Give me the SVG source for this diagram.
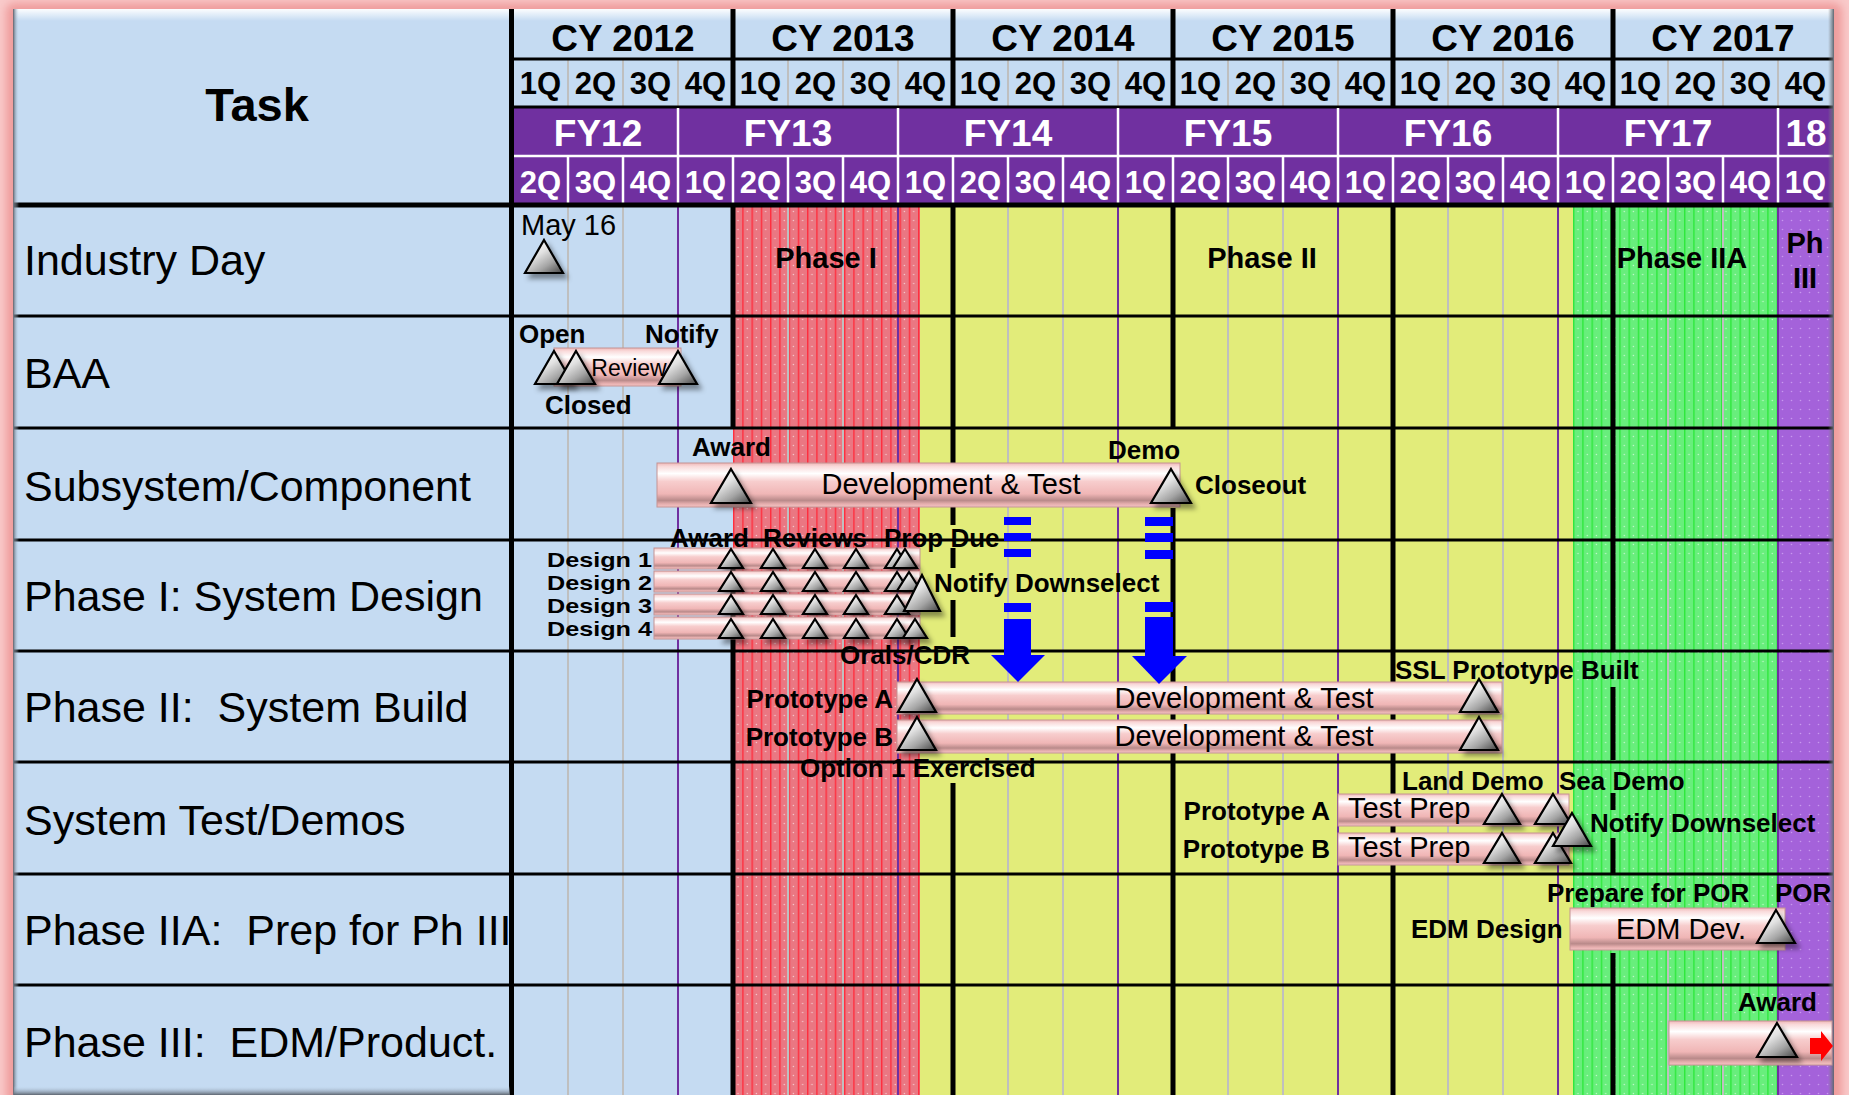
<svg xmlns="http://www.w3.org/2000/svg" width="1849" height="1095" viewBox="0 0 1849 1095">
<defs>
<style>
text{font-family:"Liberation Sans",Arial,sans-serif;fill:#000}
.tl{font-size:43px}
.hd{font-size:37px;font-weight:bold;text-anchor:middle}
.qb{font-size:31px;font-weight:bold;text-anchor:middle}
.w{fill:#fff}
.lb{font-size:26px;font-weight:bold}
.dl{font-size:21px;font-weight:bold;text-anchor:end}
.bt{font-size:29px}
.ph{font-size:29px;font-weight:bold;text-anchor:middle}
.e{text-anchor:end}
.m{text-anchor:middle}
.gl{stroke:#BFBFBF;stroke-width:2}
.pl{stroke:#7030A0;stroke-width:2}
.yl{stroke:#000;stroke-width:5;fill:none}
.rl{stroke:#000;stroke-width:3}
.wl{stroke:#fff;stroke-width:2.5}
.bar{fill:url(#gBar);stroke:#C49494;stroke-width:1}
.ms{fill:url(#gTri);stroke:#000;stroke-width:2.2;stroke-linejoin:miter;filter:url(#ds)}
.ar{fill:#0000FF}
</style>
<linearGradient id="gBar" x1="0" y1="0" x2="0" y2="1">
<stop offset="0" stop-color="#F0B8B8"/>
<stop offset="0.08" stop-color="#F9DADA"/>
<stop offset="0.24" stop-color="#FFFFFF"/>
<stop offset="0.42" stop-color="#F7CDCD"/>
<stop offset="0.7" stop-color="#F0B6B6"/>
<stop offset="0.85" stop-color="#B98A8A"/>
<stop offset="0.93" stop-color="#E6AEAE"/>
<stop offset="1" stop-color="#F4C4C4"/>
</linearGradient>
<linearGradient id="gTri" x1="0.15" y1="0.1" x2="0.85" y2="1">
<stop offset="0" stop-color="#FFFFFF"/>
<stop offset="0.35" stop-color="#E2E2E2"/>
<stop offset="0.7" stop-color="#A4A4A4"/>
<stop offset="1" stop-color="#585858"/>
</linearGradient>
<linearGradient id="gTop" x1="0" y1="0" x2="0" y2="1">
<stop offset="0" stop-color="#FFFFFF" stop-opacity="0.95"/>
<stop offset="1" stop-color="#FFFFFF" stop-opacity="0"/>
</linearGradient>
<linearGradient id="gL" x1="0" y1="0" x2="1" y2="0">
<stop offset="0" stop-color="#5E6670"/>
<stop offset="1" stop-color="#C5DBF2" stop-opacity="0"/>
</linearGradient>
<linearGradient id="gR" x1="0" y1="0" x2="1" y2="0">
<stop offset="0" stop-color="#888" stop-opacity="0"/>
<stop offset="1" stop-color="#5E6670"/>
</linearGradient>
<linearGradient id="gB" x1="0" y1="0" x2="0" y2="1">
<stop offset="0" stop-color="#C5DBF2" stop-opacity="0"/>
<stop offset="1" stop-color="#5E6670"/>
</linearGradient>
<pattern id="pR" patternUnits="userSpaceOnUse" x="733" y="0" width="9.25" height="9">
<rect width="9.25" height="9" fill="#EA7782"/>
<rect x="0" width="1.4" height="9" fill="#FF2E3E"/>
<circle cx="5" cy="4.5" r="0.7" fill="#fff" opacity="0.6"/>
</pattern>
<pattern id="pG" patternUnits="userSpaceOnUse" x="1573" y="0" width="9.25" height="9">
<rect width="9.25" height="9" fill="#68EE7C"/>
<rect x="0" width="1.4" height="9" fill="#2EE83C"/>
<circle cx="5" cy="4.5" r="0.7" fill="#fff" opacity="0.6"/>
</pattern>
<pattern id="pP" patternUnits="userSpaceOnUse" x="1778" y="0" width="9" height="9">
<rect width="9" height="9" fill="#A462DA"/>
<circle cx="4.5" cy="4.5" r="0.8" fill="#D0A4F4" opacity="0.8"/>
</pattern>
<filter id="ds" x="-40%" y="-40%" width="190%" height="190%">
<feDropShadow dx="4" dy="5" stdDeviation="2.5" flood-color="#000" flood-opacity="0.4"/>
</filter>
<filter id="blur" x="-5%" y="-5%" width="110%" height="110%">
<feGaussianBlur stdDeviation="4"/>
</filter>
<path id="tL" d="M0,-33 L19,0 L-19,0 Z"/>
<path id="tX" d="M0,-34 L20,0 L-20,0 Z"/>
<path id="tM" d="M0,-30 L18,0 L-18,0 Z"/>
<path id="tB" d="M0,-36 L18,0 L-18,0 Z"/>
<path id="tS" d="M0,-19 L12,0 L-12,0 Z"/>
</defs>

<g id="frame">
<rect width="1849" height="1095" fill="#F9CACA"/>
<rect x="6" y="3" width="1836" height="1104" rx="8" fill="#EF9C9C" filter="url(#blur)"/>
<rect x="14" y="9" width="1820" height="1086" fill="#C5DBF2"/>
</g>

<g id="regions">
<rect x="513" y="207" width="220" height="888" fill="#C5DBF2"/>
<rect x="733" y="207" width="187" height="888" fill="url(#pR)"/>
<rect x="920" y="207" width="653" height="888" fill="#E2EC7A"/>
<rect x="1573" y="207" width="205" height="888" fill="url(#pG)"/>
<rect x="1778" y="207" width="56" height="888" fill="url(#pP)"/>
</g>

<g id="header">
<rect x="14" y="9" width="1820" height="12" fill="url(#gTop)"/>
<rect x="513" y="108" width="1320" height="96" fill="#7030A0"/>
<text x="257" y="121" style="font-size:47px;font-weight:bold;text-anchor:middle">Task</text>
<g>
<line class="gl" x1="568" y1="60" x2="568" y2="106"/><line class="gl" x1="623" y1="60" x2="623" y2="106"/><line class="gl" x1="678" y1="60" x2="678" y2="106"/>
<line class="gl" x1="788" y1="60" x2="788" y2="106"/><line class="gl" x1="843" y1="60" x2="843" y2="106"/><line class="gl" x1="898" y1="60" x2="898" y2="106"/>
<line class="gl" x1="1008" y1="60" x2="1008" y2="106"/><line class="gl" x1="1063" y1="60" x2="1063" y2="106"/><line class="gl" x1="1118" y1="60" x2="1118" y2="106"/>
<line class="gl" x1="1228" y1="60" x2="1228" y2="106"/><line class="gl" x1="1283" y1="60" x2="1283" y2="106"/><line class="gl" x1="1338" y1="60" x2="1338" y2="106"/>
<line class="gl" x1="1448" y1="60" x2="1448" y2="106"/><line class="gl" x1="1503" y1="60" x2="1503" y2="106"/><line class="gl" x1="1558" y1="60" x2="1558" y2="106"/>
<line class="gl" x1="1668" y1="60" x2="1668" y2="106"/><line class="gl" x1="1723" y1="60" x2="1723" y2="106"/><line class="gl" x1="1778" y1="60" x2="1778" y2="106"/>
</g>
<line class="rl" x1="513" y1="59" x2="1833" y2="59"/>
<line class="rl" x1="513" y1="107" x2="1833" y2="107"/>
<path class="yl" d="M733,9V108M953,9V108M1173,9V108M1393,9V108M1613,9V108"/>
<g>
<line class="wl" x1="678" y1="108" x2="678" y2="204"/><line class="wl" x1="898" y1="108" x2="898" y2="204"/><line class="wl" x1="1118" y1="108" x2="1118" y2="204"/>
<line class="wl" x1="1338" y1="108" x2="1338" y2="204"/><line class="wl" x1="1558" y1="108" x2="1558" y2="204"/><line class="wl" x1="1778" y1="108" x2="1778" y2="204"/>
<line class="wl" x1="513" y1="156" x2="1833" y2="156"/>
<path class="wl" d="M568,156V204M623,156V204M733,156V204M788,156V204M843,156V204M953,156V204M1008,156V204M1063,156V204M1173,156V204M1228,156V204M1283,156V204M1393,156V204M1448,156V204M1503,156V204M1613,156V204M1668,156V204M1723,156V204"/>
</g>
<text class="hd" x="623" y="51">CY 2012</text>
<text class="hd" x="843" y="51">CY 2013</text>
<text class="hd" x="1063" y="51">CY 2014</text>
<text class="hd" x="1283" y="51">CY 2015</text>
<text class="hd" x="1503" y="51">CY 2016</text>
<text class="hd" x="1723" y="51">CY 2017</text>
<g>
<text class="qb" x="540.5" y="94">1Q</text><text class="qb" x="595.5" y="94">2Q</text><text class="qb" x="650.5" y="94">3Q</text><text class="qb" x="705.5" y="94">4Q</text>
<text class="qb" x="760.5" y="94">1Q</text><text class="qb" x="815.5" y="94">2Q</text><text class="qb" x="870.5" y="94">3Q</text><text class="qb" x="925.5" y="94">4Q</text>
<text class="qb" x="980.5" y="94">1Q</text><text class="qb" x="1035.5" y="94">2Q</text><text class="qb" x="1090.5" y="94">3Q</text><text class="qb" x="1145.5" y="94">4Q</text>
<text class="qb" x="1200.5" y="94">1Q</text><text class="qb" x="1255.5" y="94">2Q</text><text class="qb" x="1310.5" y="94">3Q</text><text class="qb" x="1365.5" y="94">4Q</text>
<text class="qb" x="1420.5" y="94">1Q</text><text class="qb" x="1475.5" y="94">2Q</text><text class="qb" x="1530.5" y="94">3Q</text><text class="qb" x="1585.5" y="94">4Q</text>
<text class="qb" x="1640.5" y="94">1Q</text><text class="qb" x="1695.5" y="94">2Q</text><text class="qb" x="1750.5" y="94">3Q</text><text class="qb" x="1805.5" y="94">4Q</text>
</g>
<text class="hd w" x="598" y="146">FY12</text>
<text class="hd w" x="788" y="146">FY13</text>
<text class="hd w" x="1008" y="146">FY14</text>
<text class="hd w" x="1228" y="146">FY15</text>
<text class="hd w" x="1448" y="146">FY16</text>
<text class="hd w" x="1668" y="146">FY17</text>
<text class="hd w" x="1806" y="146">18</text>
<g>
<text class="qb w" x="540.5" y="193">2Q</text><text class="qb w" x="595.5" y="193">3Q</text><text class="qb w" x="650.5" y="193">4Q</text><text class="qb w" x="705.5" y="193">1Q</text>
<text class="qb w" x="760.5" y="193">2Q</text><text class="qb w" x="815.5" y="193">3Q</text><text class="qb w" x="870.5" y="193">4Q</text><text class="qb w" x="925.5" y="193">1Q</text>
<text class="qb w" x="980.5" y="193">2Q</text><text class="qb w" x="1035.5" y="193">3Q</text><text class="qb w" x="1090.5" y="193">4Q</text><text class="qb w" x="1145.5" y="193">1Q</text>
<text class="qb w" x="1200.5" y="193">2Q</text><text class="qb w" x="1255.5" y="193">3Q</text><text class="qb w" x="1310.5" y="193">4Q</text><text class="qb w" x="1365.5" y="193">1Q</text>
<text class="qb w" x="1420.5" y="193">2Q</text><text class="qb w" x="1475.5" y="193">3Q</text><text class="qb w" x="1530.5" y="193">4Q</text><text class="qb w" x="1585.5" y="193">1Q</text>
<text class="qb w" x="1640.5" y="193">2Q</text><text class="qb w" x="1695.5" y="193">3Q</text><text class="qb w" x="1750.5" y="193">4Q</text><text class="qb w" x="1805.5" y="193">1Q</text>
</g>
</g>

<g id="grid">
<path class="gl" d="M568,207V1095M623,207V1095M788,207V1095M843,207V1095M1008,207V1095M1063,207V1095M1228,207V1095M1283,207V1095M1448,207V1095M1503,207V1095M1668,207V1095M1723,207V1095"/>
<path class="pl" d="M678,207V1095M898,207V1095M1118,207V1095M1338,207V1095M1558,207V1095M1778,207V1095"/>
<path class="yl" d="M733,207V428M733,548V1095M953,207V525M953,548V568M953,600V637M953,783V1095M1173,207V428M1173,508V1095M1393,207V1095M1613,207V651M1613,687V760M1613,793V810M1613,838V874M1613,953V1095"/>
<line x1="511.5" y1="9" x2="511.5" y2="1095" stroke="#000" stroke-width="5"/>
<line x1="14" y1="205" x2="1833" y2="205" stroke="#000" stroke-width="5"/>
<path class="rl" d="M14,316H1833M14,428H1833M14,540H1833M14,651H1833M14,762H1833M14,874H1833M14,985H1833"/>
<rect x="13" y="9" width="6" height="1086" fill="url(#gL)"/>
<rect x="1828" y="9" width="6" height="1086" fill="url(#gR)"/>
<rect x="14" y="1086" width="496" height="9" fill="url(#gB)"/>
</g>

<g id="phases">
<text class="ph" x="826" y="268">Phase I</text>
<text class="ph" x="1262" y="268">Phase II</text>
<text class="ph" x="1682" y="268">Phase IIA</text>
<text class="ph" x="1805" y="253">Ph</text>
<text class="ph" x="1805" y="288">III</text>
</g>

<g id="task-industry-day">
<text class="tl" x="24" y="275">Industry Day</text>
<text x="521" y="235" style="font-size:29px">May 16</text>
<use href="#tL" class="ms" x="544" y="273"/>
</g>

<g id="task-baa">
<text class="tl" x="24" y="388">BAA</text>
<rect class="bar" x="554" y="348" width="127" height="38"/>
<use href="#tL" class="ms" x="554" y="384"/>
<use href="#tL" class="ms" x="576" y="384"/>
<use href="#tL" class="ms" x="678" y="384"/>
<text class="m" x="629" y="376" style="font-size:23px">Review</text>
<text class="lb" x="519" y="343">Open</text>
<text class="lb" x="645" y="343">Notify</text>
<text class="lb" x="545" y="414">Closed</text>
</g>

<g id="task-subsystem">
<text class="tl" x="24" y="501">Subsystem/Component</text>
<rect class="bar" x="657" y="463" width="523" height="44"/>
<text class="bt m" x="951" y="494">Development &amp; Test</text>
<use href="#tX" class="ms" x="731" y="503"/>
<use href="#tX" class="ms" x="1171" y="503"/>
<text class="lb" x="692" y="456">Award</text>
<text class="lb" x="1108" y="459">Demo</text>
<text class="lb" x="1195" y="494">Closeout</text>
</g>

<g id="task-phase1">
<text class="tl" x="24" y="611">Phase I: System Design</text>
<text class="dl" x="652" y="567" textLength="105" lengthAdjust="spacingAndGlyphs">Design 1</text>
<text class="dl" x="652" y="590" textLength="105" lengthAdjust="spacingAndGlyphs">Design 2</text>
<text class="dl" x="652" y="613" textLength="105" lengthAdjust="spacingAndGlyphs">Design 3</text>
<text class="dl" x="652" y="636" textLength="105" lengthAdjust="spacingAndGlyphs">Design 4</text>
<rect class="bar" x="654" y="548" width="266" height="21"/>
<use href="#tS" class="ms" x="731" y="568"/><use href="#tS" class="ms" x="773" y="568"/><use href="#tS" class="ms" x="815" y="568"/><use href="#tS" class="ms" x="856" y="568"/><use href="#tS" class="ms" x="897" y="568"/><use href="#tS" class="ms" x="905" y="568"/>
<rect class="bar" x="654" y="571" width="266" height="21"/>
<use href="#tS" class="ms" x="731" y="591"/><use href="#tS" class="ms" x="773" y="591"/><use href="#tS" class="ms" x="815" y="591"/><use href="#tS" class="ms" x="856" y="591"/><use href="#tS" class="ms" x="897" y="591"/><use href="#tS" class="ms" x="909" y="591"/>
<rect class="bar" x="654" y="594" width="266" height="21"/>
<use href="#tS" class="ms" x="731" y="614"/><use href="#tS" class="ms" x="773" y="614"/><use href="#tS" class="ms" x="815" y="614"/><use href="#tS" class="ms" x="856" y="614"/><use href="#tS" class="ms" x="897" y="614"/>
<rect class="bar" x="654" y="617" width="266" height="22"/>
<use href="#tS" class="ms" x="731" y="638"/><use href="#tS" class="ms" x="773" y="638"/><use href="#tS" class="ms" x="815" y="638"/><use href="#tS" class="ms" x="856" y="638"/><use href="#tS" class="ms" x="897" y="638"/><use href="#tS" class="ms" x="915" y="638"/>
<use href="#tB" class="ms" x="922" y="611"/>
<text class="lb" x="670" y="547">Award</text>
<text class="lb" x="763" y="547">Reviews</text>
<text class="lb" x="884" y="547">Prop Due</text>
<text class="lb" x="934" y="592">Notify Downselect</text>
<text class="lb" x="840" y="664">Orals/CDR</text>
</g>

<g id="task-phase2">
<text class="tl" x="24" y="722" xml:space="preserve">Phase II:  System Build</text>
<text class="lb" x="1395" y="679">SSL Prototype Built</text>
<text class="lb e" x="893" y="708">Prototype A</text>
<text class="lb e" x="893" y="746">Prototype B</text>
<rect class="bar" x="897" y="682" width="605" height="32"/>
<text class="bt m" x="1244" y="708">Development &amp; Test</text>
<use href="#tL" class="ms" x="917" y="712"/>
<use href="#tL" class="ms" x="1479" y="712"/>
<rect class="bar" x="897" y="720" width="605" height="33"/>
<text class="bt m" x="1244" y="746">Development &amp; Test</text>
<use href="#tL" class="ms" x="917" y="750"/>
<use href="#tL" class="ms" x="1479" y="750"/>
<text class="lb" x="800" y="777">Option 1 Exercised</text>
</g>

<g id="task-system-test">
<text class="tl" x="24" y="835">System Test/Demos</text>
<text class="lb" x="1402" y="790">Land Demo</text>
<text class="lb" x="1559" y="790">Sea Demo</text>
<text class="lb e" x="1330" y="820">Prototype A</text>
<text class="lb e" x="1330" y="858">Prototype B</text>
<rect class="bar" x="1338" y="794" width="231" height="32"/>
<text class="bt" x="1348" y="818">Test Prep</text>
<use href="#tM" class="ms" x="1502" y="824"/>
<use href="#tM" class="ms" x="1553" y="824"/>
<rect class="bar" x="1338" y="833" width="231" height="32"/>
<text class="bt" x="1348" y="857">Test Prep</text>
<use href="#tM" class="ms" x="1502" y="863"/>
<use href="#tM" class="ms" x="1553" y="863"/>
<use href="#tL" class="ms" x="1572" y="846"/>
<text class="lb" x="1590" y="832">Notify Downselect</text>
</g>

<g id="task-phase2a">
<text class="tl" x="24" y="945" xml:space="preserve">Phase IIA:  Prep for Ph III</text>
<text class="lb" x="1547" y="902">Prepare for POR</text>
<text class="lb" x="1775" y="902">POR</text>
<text class="lb" x="1411" y="938">EDM Design</text>
<rect class="bar" x="1570" y="908" width="215" height="42"/>
<text class="bt" x="1616" y="939">EDM Dev.</text>
<use href="#tL" class="ms" x="1776" y="943"/>
</g>

<g id="task-phase3">
<text class="tl" x="24" y="1057" xml:space="preserve">Phase III:  EDM/Product.</text>
<text class="lb" x="1738" y="1011">Award</text>
<rect class="bar" x="1669" y="1021" width="163" height="44"/>
<use href="#tX" class="ms" x="1777" y="1057"/>
</g>

<g id="connectors">
<rect class="ar" x="1004" y="517" width="27" height="8"/>
<rect class="ar" x="1004" y="533" width="27" height="8"/>
<rect class="ar" x="1004" y="549" width="27" height="8"/>
<rect class="ar" x="1004" y="603" width="27" height="9"/>
<rect class="ar" x="1004" y="619" width="27" height="37"/>
<polygon class="ar" points="991,655 1045,655 1018,682"/>
<rect class="ar" x="1145" y="517" width="28" height="9"/>
<rect class="ar" x="1145" y="533" width="28" height="9"/>
<rect class="ar" x="1145" y="550" width="28" height="9"/>
<rect class="ar" x="1145" y="602" width="28" height="10"/>
<rect class="ar" x="1145" y="617" width="28" height="40"/>
<polygon class="ar" points="1132,656 1187,656 1159,684"/>
<polygon points="1810,1038 1821,1038 1821,1031 1833,1046 1821,1061 1821,1054 1810,1054" fill="#FF0000"/>
</g>
</svg>
